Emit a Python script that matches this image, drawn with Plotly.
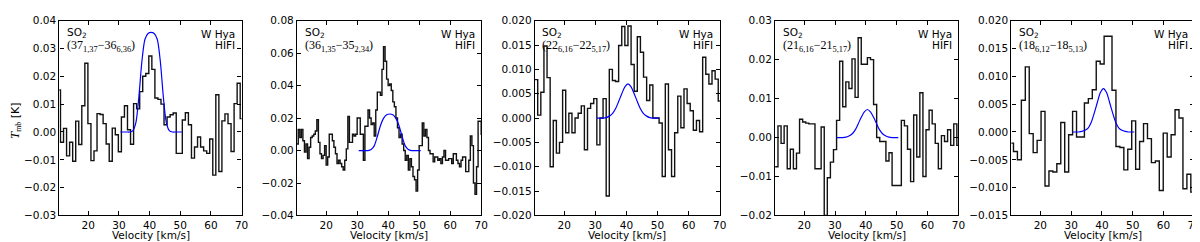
import plotly.graph_objects as go

# ---------------- data ----------------
# spectra: left edge of first channel [km/s], channel width [km/s], channel values Tmb [K]
p1_start, p1_width = 9.96, 0.993
p1_vals = [0.0151, -0.0037, 0.0013, -0.0086, -0.0037, -0.0105, 0.0039, -0.0045, 0.0094, 0.0247,
           0.0030, -0.0103, -0.0068, 0.0066, 0.0063, 0.0030,
           -0.0043, -0.0105, 0.0014, -0.0010, -0.0071, 0.0054, 0.0094, 0.0008, -0.0044, 0.0102,
           0.0083, 0.0145, 0.0200, 0.0210, 0.0273, 0.0225, 0.0122, 0.0117, 0.0100, 0.0026,
           0.0054, 0.0062, 0.0068,
           -0.0077, -0.0077, 0.0043, 0.0069, 0.0026, -0.0094, -0.0054, -0.0018, -0.0054, -0.0068,
           -0.0077, -0.0025,
           -0.0155, 0.0134, -0.0142, 0.0040, 0.0065, 0.0030, -0.0070, 0.0102, 0.0175, 0.0048]

p2_start, p2_width = 10.5, 0.5
p2_vals = [0.004, 0.013, 0.008, 0.013, 0.006, -0.001, 0.004, -0.005, 0.002, 0.008,
           0.009, 0.010, 0.012, 0.019, 0.005, -0.002, -0.005, -0.003, 0.003, -0.009,
           -0.004, 0.010, 0.010, 0.006, 0.002, -0.002, -0.008, -0.006, -0.008, -0.010,
           -0.012, -0.006, 0.001, 0.021, 0.005, 0.005, 0.010, 0.009, 0.010, 0.020,
           0.020, 0.010, 0.010, -0.006, 0.015, 0.015, 0.025, 0.020, 0.016, 0.017,
           0.009, 0.025, 0.036, 0.036, 0.034, 0.050, 0.064, 0.055, 0.044, 0.040,
           0.041, 0.037, 0.030, 0.027, 0.020, 0.014, 0.008, 0.010, 0.004, 0.000,
           -0.006, -0.003, -0.012, -0.005, -0.010, -0.016, -0.018, -0.025, -0.012, 0.003,
           0.003, 0.017, 0.009, 0.013, 0.008, 0.000, -0.002, -0.002, -0.007, -0.004,
           -0.004, -0.006, -0.005, -0.008, -0.004, 0.000, -0.006, -0.006, -0.005, -0.005,
           -0.008, -0.002, -0.002, -0.006, -0.008, -0.010, -0.006, -0.004, -0.004, -0.013,
           -0.013, -0.006, 0.009, 0.003, -0.020, -0.027, -0.010, 0.018, 0.018, 0.010]

p3_start, p3_width = 10.5, 1.0
p3_vals = [0.0079, 0.0006, 0.0053, 0.0148, 0.0083, -0.0100, -0.0005, -0.0072, -0.0050, 0.0057,
           -0.0030, 0.0010, -0.0030, 0.0000, 0.0010, 0.0025, -0.0065, 0.0020, 0.0030, 0.0040,
           -0.0055, 0.0000, 0.0040, -0.0160, 0.0100, 0.0077, 0.0075, 0.0149, 0.0188, 0.0149,
           0.0189, 0.0110, 0.0055, 0.0167, 0.0135, 0.0084, 0.0036, 0.0068, 0.0000, 0.0000,
           -0.0010, -0.0120, 0.0070, -0.0065, -0.0120, -0.0030, 0.0045, -0.0020, 0.0060, 0.0030,
           0.0015, -0.0025, -0.0005, -0.0028, 0.0125, 0.0090, 0.0070, 0.0097, 0.0080, 0.0035]

p4_start, p4_width = 10.5, 1.0
p4_vals = [-0.0075, 0.0030, -0.0015, 0.0030, -0.0080, -0.0030, -0.0080, -0.0040, 0.0047, 0.0040,
           0.0037, 0.0035, 0.0035, -0.0080, -0.0080, 0.0027, -0.0200, -0.0103, -0.0063, -0.0031,
           0.0044, 0.0196, 0.0079, 0.0143, 0.0126, 0.0202, 0.0103, 0.0256, 0.0188, 0.0188,
           0.0205, 0.0200, 0.0085, 0.0000, -0.0010, -0.0010, -0.0060, -0.0039, -0.0123, -0.0123,
           -0.0123, 0.0044, 0.0030, -0.0030, -0.0113, 0.0058, -0.0050, 0.0115, -0.0100, 0.0020,
           0.0070, 0.0035, -0.0015, -0.0080, 0.0005, -0.0010, 0.0020, -0.0020, 0.0035, -0.0020]

p5_start, p5_width = 9.99, 1.28
p5_vals = [-0.0020, -0.0035, -0.0050, 0.0057, 0.0117,
           -0.0003, -0.0037, -0.0015, 0.0037, -0.0097,
           -0.0070, -0.0072, -0.0057, 0.0017, -0.0072,
           -0.0005, 0.0037, -0.0009, -0.0009, 0.0052,
           0.0060, 0.0076, 0.0127, 0.0122, 0.0172,
           0.0172, 0.0075, -0.0026, -0.0028, -0.0068,
           -0.0031, 0.0020, -0.0067, -0.0017, 0.0015,
           -0.0012, -0.0055, -0.0052, -0.0105, -0.0002,
           -0.0045, -0.0005, 0.0040, 0.0025, -0.0102,
           -0.0076, -0.0108]

# model line profiles (blue)
model_v = [30.5, 31.5, 32.5, 33.5, 34.5, 35.5, 36.5, 37.5, 38.5, 39.5, 40.5,
           41.5, 42.5, 43.5, 44.5, 45.5, 46.5, 47.5, 48.5, 49.5, 50.5]
m1 = [0, 0, 0, 0, 0.0004, 0.0032, 0.0125, 0.0254, 0.0333, 0.0354, 0.0358,
      0.0354, 0.0333, 0.0254, 0.0125, 0.0032, 0.0004, 0, 0, 0, 0]
m2 = [0, 0, 0, 0, 0.0007, 0.0029, 0.0086, 0.0153, 0.0198, 0.0220, 0.0225,
      0.0220, 0.0198, 0.0153, 0.0086, 0.0029, 0.0007, 0, 0, 0, 0]
m3 = [0, 0, 0, 0.0001, 0.0004, 0.0009, 0.0019, 0.0034, 0.0050, 0.0064, 0.0070,
      0.0064, 0.0050, 0.0034, 0.0019, 0.0009, 0.0004, 0.0001, 0, 0, 0]
m4 = [0, 0, 0, 0.0001, 0.0004, 0.0009, 0.0019, 0.0035, 0.0052, 0.0066, 0.0072,
      0.0066, 0.0052, 0.0035, 0.0019, 0.0009, 0.0004, 0.0001, 0, 0, 0]
m5 = [0, 0, 0, 0.0001, 0.0003, 0.0007, 0.0017, 0.0034, 0.0053, 0.0071, 0.0078,
      0.0071, 0.0053, 0.0034, 0.0017, 0.0007, 0.0003, 0.0001, 0, 0, 0]

transitions = ["(37<sub>1,37</sub>\u221236<sub>6,36</sub>)",
               "(36<sub>1,35</sub>\u221235<sub>2,34</sub>)",
               "(22<sub>6,16</sub>\u221222<sub>5,17</sub>)",
               "(21<sub>6,16</sub>\u221221<sub>5,17</sub>)",
               "(18<sub>6,12</sub>\u221218<sub>5,13</sub>)"]
y_ranges = [(-0.03, 0.04), (-0.04, 0.08), (-0.02, 0.02), (-0.02, 0.03), (-0.015, 0.02)]
y_dticks = [0.01, 0.02, 0.005, 0.01, 0.005]
y_formats = [".2f", ".2f", ".3f", ".2f", ".3f"]
x_ticks = [20, 30, 40, 50, 60, 70]

spectra = [(p1_start, p1_width, p1_vals), (p2_start, p2_width, p2_vals),
           (p3_start, p3_width, p3_vals), (p4_start, p4_width, p4_vals),
           (p5_start, p5_width, p5_vals)]
models = [m1, m2, m3, m4, m5]

# ---------------- layout ----------------
W, H = 1200, 242
left_px = [51.7, 290.7, 530.0, 771.7, 1009.3]
right_px = [235.0, 476.0, 716.0, 956.0, 1193.3]
top_px, bot_px = 7, 212
ydom = [(H - bot_px) / H, (H - top_px) / H]

SANS = "DejaVu Sans"
SERIF = "Liberation Serif"
FS = 10.5

fig = go.Figure()
layout = dict(width=W, height=H, margin=dict(l=0, r=0, t=0, b=0),
              paper_bgcolor="white", plot_bgcolor="white", showlegend=False,
              font=dict(family=SANS, size=FS, color="black"))
annotations = []

for i in range(5):
    sfx = "" if i == 0 else str(i + 1)
    xa, ya = "x" + sfx, "y" + sfx
    start, width, vals = spectra[i]
    xs = [start + width * k for k in range(len(vals) + 1)]
    ys = list(vals) + [vals[-1]]
    fig.add_trace(go.Scatter(x=xs, y=ys, mode="lines", line=dict(color="#111111", width=1.4, shape="hv"),
                             xaxis=xa, yaxis=ya, hoverinfo="skip"))
    fig.add_trace(go.Scatter(x=model_v, y=models[i], mode="lines",
                             line=dict(color="#0000ff", width=1.2, shape="spline", smoothing=0.8),
                             xaxis=xa, yaxis=ya, hoverinfo="skip"))
    common = dict(showline=True, linecolor="black", linewidth=1.3, mirror="allticks",
                  ticks="inside", ticklen=4, tickwidth=1, tickcolor="black",
                  showgrid=False, zeroline=False, tickfont=dict(family=SANS, size=FS))
    layout["xaxis" + sfx] = dict(domain=[left_px[i] / W, right_px[i] / W], anchor=ya,
                                 range=[10.6, 70.01], tickmode="array", tickvals=x_ticks, **common)
    layout["yaxis" + sfx] = dict(domain=ydom, anchor=xa, range=list(y_ranges[i]),
                                 tick0=y_ranges[i][0], dtick=y_dticks[i], tickformat=y_formats[i],
                                 **common)
    # texts inside panel
    annotations.append(dict(xref=xa + " domain", yref=ya + " domain", x=0.03, y=0.935,
                            xanchor="left", yanchor="middle", showarrow=False,
                            text="SO<sub>2</sub>", font=dict(family=SANS, size=FS)))
    annotations.append(dict(xref=xa + " domain", yref=ya + " domain", x=0.03, y=0.868,
                            xanchor="left", yanchor="middle", showarrow=False,
                            text=transitions[i], font=dict(family=SERIF, size=12)))
    annotations.append(dict(xref=xa + " domain", yref=ya + " domain", x=0.975, y=0.93,
                            xanchor="right", yanchor="middle", showarrow=False,
                            text="W Hya", font=dict(family=SANS, size=FS)))
    annotations.append(dict(xref=xa + " domain", yref=ya + " domain", x=0.975, y=0.873,
                            xanchor="right", yanchor="middle", showarrow=False,
                            text="HIFI", font=dict(family=SANS, size=FS)))
    annotations.append(dict(xref="paper", yref="paper", x=(left_px[i] + right_px[i]) / 2 / W,
                            y=(H - 233) / H, xanchor="center", yanchor="middle", showarrow=False,
                            text="Velocity [km/s]", font=dict(family=SANS, size=FS)))

annotations.append(dict(xref="paper", yref="paper", x=7.5 / W, y=(H - 112) / H,
                        xanchor="center", yanchor="middle", showarrow=False, textangle=-90,
                        text="<span style='font-family:Liberation Serif;font-size:13px'><i>T</i></span>"
                             "<sub><span style='font-family:Liberation Serif'>mb</span></sub> [K]",
                        font=dict(family=SANS, size=11)))
layout["annotations"] = annotations
fig.update_layout(**layout)
fig.write_html("out.html")
